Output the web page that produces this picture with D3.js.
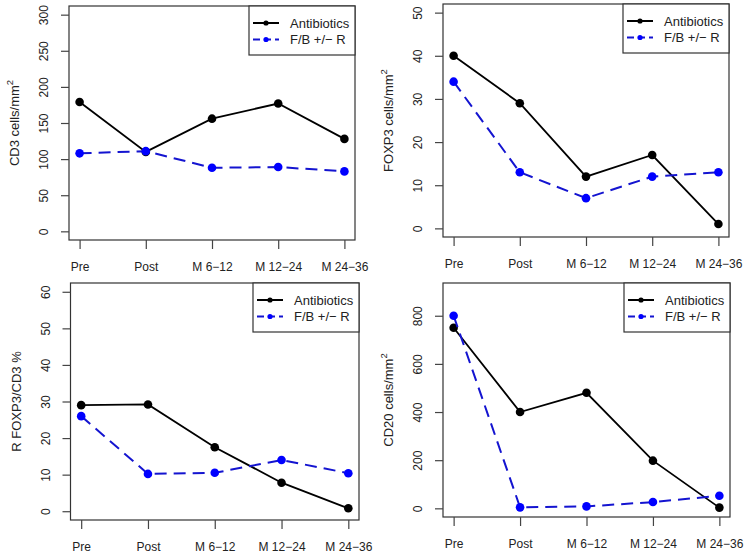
<!DOCTYPE html>
<html><head><meta charset="utf-8">
<script src="https://cdn.jsdelivr.net/npm/d3@7"></script>
<style>body{margin:0;background:#fff}svg{display:block}text{font-family:"Liberation Sans",Arial,sans-serif}</style>
</head><body>
<script>
const categories = ["Pre", "Post", "M 6\u221212", "M 12\u221224", "M 24\u221236"];
const seriesNames = ["Antibiotics", "F/B +/\u2212 R"];

const cd3Antibiotics = [179, 110, 156, 177, 128];
const cd3FB = [108, 111, 88, 89, 83];
const cd3Ticks = [0, 50, 100, 150, 200, 250, 300];

const foxp3Antibiotics = [40, 29, 12, 17, 1];
const foxp3FB = [34, 13, 7, 12, 13];
const foxp3Ticks = [0, 10, 20, 30, 40, 50];

const ratioAntibiotics = [29, 29.2, 17.5, 7.8, 0.8];
const ratioFB = [26, 10.2, 10.5, 14, 10.4];
const ratioTicks = [0, 10, 20, 30, 40, 50, 60];

const cd20Antibiotics = [750, 400, 480, 198, 3];
const cd20FB = [800, 4, 8, 26, 52];
const cd20Ticks = [0, 200, 400, 600, 800];

const panels = [
  {label: "CD3", unit: "cells/mm", sup: true, a: cd3Antibiotics, b: cd3FB, ticks: cd3Ticks, ymax: 300,
   box: {l: 69, r: 355, t: 6, b: 240}},
  {label: "FOXP3", unit: "cells/mm", sup: true, a: foxp3Antibiotics, b: foxp3FB, ticks: foxp3Ticks, ymax: 50,
   box: {l: 443, r: 729, t: 4, b: 237}},
  {label: "R FOXP3/CD3 %", unit: "", sup: false, a: ratioAntibiotics, b: ratioFB, ticks: ratioTicks, ymax: 60,
   box: {l: 70.5, r: 359, t: 283, b: 520}},
  {label: "CD20", unit: "cells/mm", sup: true, a: cd20Antibiotics, b: cd20FB, ticks: cd20Ticks, ymax: 900,
   box: {l: 443, r: 730, t: 283, b: 517}}
];

const W = 746, H = 557;
const svg = d3.select("body").append("svg").attr("width", W).attr("height", H);
const fsTick = 12, fsLeg = 13, fsLab = 13;
const blue = "#0000ff", blueLine = "#1414d0";

panels.forEach(p => {
  const bx = p.box;
  const g = svg.append("g");
  const xi = d3.scaleLinear().domain([1 - 0.16, 5 + 0.16]).range([bx.l, bx.r]);
  const x = (d, i) => xi(i + 1);
  const y = d3.scaleLinear().domain([-0.04 * p.ymax, 1.04 * p.ymax]).range([bx.b, bx.t]);

  g.append("rect").attr("x", bx.l).attr("y", bx.t).attr("width", bx.r - bx.l).attr("height", bx.b - bx.t)
    .attr("fill", "none").attr("stroke", "#333").attr("stroke-width", 1.2);

  const yAxis = d3.axisLeft(y).tickValues(p.ticks).tickSize(8).tickFormat(d3.format("d"));
  const ya = g.append("g").attr("transform", `translate(${bx.l},0)`).call(yAxis);
  ya.select(".domain").remove();
  ya.selectAll("line").attr("stroke", "#444").attr("stroke-width", 1.2);
  ya.selectAll("text").attr("font-size", fsTick).attr("fill", "#222")
    .attr("x", 0).attr("y", 0).attr("dy", null).attr("text-anchor", "middle")
    .attr("transform", `translate(-25,0) rotate(-90) translate(0,${fsTick * 0.36})`);

  const xAxis = d3.axisBottom(xi).tickValues([1, 2, 3, 4, 5]).tickSize(9).tickFormat(d => categories[d - 1]);
  const xa = g.append("g").attr("transform", `translate(0,${bx.b})`).call(xAxis);
  xa.select(".domain").remove();
  xa.selectAll("line").attr("stroke", "#444").attr("stroke-width", 1.2);
  xa.selectAll("text").attr("font-size", fsTick).attr("fill", "#222").attr("y", 22).attr("dy", "0.71em");

  const lab = g.append("text").attr("font-size", fsLab).attr("fill", "#222").attr("text-anchor", "middle")
    .attr("transform", `translate(${bx.l - 50},${(bx.t + bx.b) / 2}) rotate(-90)`);
  if (p.sup) {
    lab.append("tspan").text(p.label + " " + p.unit);
    lab.append("tspan").attr("dy", -6).attr("font-size", 9.5).text("2");
  } else {
    lab.text(p.label);
  }

  const line = d3.line().x(x).y(d => y(d));
  g.append("path").datum(p.a).attr("d", line).attr("fill", "none").attr("stroke", "#000").attr("stroke-width", 1.8);
  g.selectAll(".pa").data(p.a).enter().append("circle").attr("cx", x).attr("cy", d => y(d)).attr("r", 4.3).attr("fill", "#000");
  g.append("path").datum(p.b).attr("d", line).attr("fill", "none").attr("stroke", blueLine).attr("stroke-width", 2)
    .attr("stroke-dasharray", "12,7");
  g.selectAll(".pb").data(p.b).enter().append("circle").attr("cx", x).attr("cy", d => y(d)).attr("r", 4.3).attr("fill", blue);

  const lw = 106, lh = 49;
  const lg = g.append("g").attr("transform", `translate(${bx.r - lw},${bx.t})`);
  lg.append("rect").attr("width", lw).attr("height", lh).attr("fill", "#fff").attr("stroke", "#333").attr("stroke-width", 1.2);
  seriesNames.forEach((n, i) => {
    const yy = 17 + i * 16.5;
    const col = i === 0 ? "#000" : blue;
    lg.append("line").attr("x1", 4).attr("x2", 30).attr("y1", yy).attr("y2", yy)
      .attr("stroke", i === 0 ? "#000" : blueLine).attr("stroke-width", 2)
      .attr("stroke-dasharray", i === 0 ? null : "7,4");
    lg.append("circle").attr("cx", 17).attr("cy", yy).attr("r", 2.6).attr("fill", col);
    lg.append("text").attr("x", 41).attr("y", yy).attr("dy", "0.35em").attr("font-size", fsLeg).attr("fill", "#222").text(n);
  });
});
</script>
</body></html>
